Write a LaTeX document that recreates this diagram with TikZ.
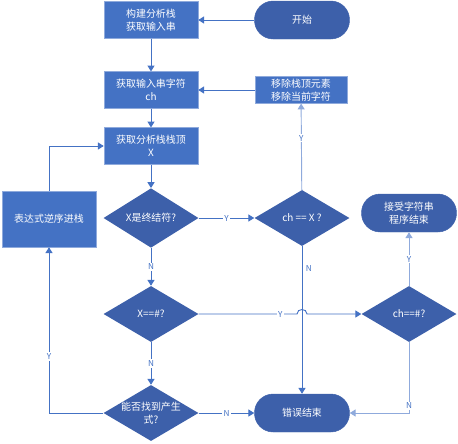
\documentclass[tikz,border=0pt]{standalone}
\usepackage{fontspec}
\newfontfamily\cjk{Noto Sans CJK SC}
\usetikzlibrary{arrows.meta,shapes.geometric}
\definecolor{boxblue}{RGB}{68,114,196}
\definecolor{dkblue}{RGB}{61,96,170}
\definecolor{ltline}{RGB}{143,170,220}

\begin{document}
\begin{tikzpicture}[x=0.03cm,y=-0.03cm,
    font=\cjk\fontsize{8.5}{11}\selectfont,
    stepbox/.style={rectangle,draw=ltline,fill=boxblue,text=white,align=center,
        minimum width=2.82cm,minimum height=1.1cm,inner sep=1pt},
    pill/.style={rectangle,rounded corners=0.56cm,draw=dkblue,fill=dkblue,text=white,
        align=center,minimum width=2.85cm,minimum height=1.14cm},
    ask/.style={diamond,fill=dkblue,text=white,align=center,inner sep=0pt,
        minimum width=2.85cm,minimum height=1.68cm},
    flow/.style={draw=boxblue,line width=0.8pt,-{Triangle[length=5pt,width=6pt]}},
    ltflow/.style={flow,draw=ltline},
    lbl/.style={fill=white,text=boxblue,inner sep=1pt,font=\cjk\fontsize{7}{8}\selectfont}]
   \useasboundingbox (0,0) rectangle (458,443);

   \draw (151,20) node[stepbox] (build) {构建分析栈\\获取输入串};
   \draw (302,20) node[pill] (start) {开始};
   \draw (151,90) node[stepbox] (getch) {获取输入串字符\\ch};
   \draw (301,90) node[stepbox,minimum width=2.76cm,minimum height=0.8cm] (pop) {移除栈顶元素\\移除当前字符};
   \draw (151,146) node[stepbox] (top) {获取分析栈栈顶\\X};
   \draw (49,219) node[stepbox,minimum height=1.68cm] (push) {表达式逆序进栈};

   \draw (151,218) node[ask] (isterm) {X是终结符?};
   \draw (302,218) node[ask] (match) {ch == X ?};
   \draw (409,213) node[pill] (accept) {接受字符串\\程序结束};
   \draw (151,314) node[ask] (xend) {X==\#?};
   \draw (409,314) node[ask] (chend) {ch==\#?};
   \draw (151,413) node[ask] (prod) {\makebox[0pt]{能否找到产生}\\\makebox[0pt]{式?}};
   \draw (302,413) node[pill] (err) {错误结束};

   \path[flow] (start) -- (build);
   \path[flow] (build) -- (getch);
   \path[flow] (getch) -- (top);
   \path[flow] (top) -- (isterm);
   \path[flow] (isterm) -- node[lbl] {Y} (match);
   \path[ltflow] (match) -- node[lbl,pos=0.6] {Y} (pop);
   \path[flow] (pop) -- (getch);
   \path[flow] (match) -- node[lbl,pos=0.15,right=2pt,fill=none] {N} (err);
   \path[flow] (isterm) -- node[lbl] {N} (xend);
   \path[flow] (xend.east) -- node[lbl,pos=0.83] {Y} (297,314)
      .. controls (297,308) and (307,308) .. (307,314) -- (chend.west);
   \path[ltflow] (chend) -- node[lbl] {Y} (accept);
   \path[ltflow] (chend) |- node[lbl,pos=0.45] {N} (err);
   \path[flow] (xend) -- node[lbl] {N} (prod);
   \path[flow] (prod) -- node[lbl] {N} (err);
   \path[flow] (prod) -| node[lbl,pos=0.67] {Y} (push);
   \path[flow] (push) |- (top);

\end{tikzpicture}
\end{document}
